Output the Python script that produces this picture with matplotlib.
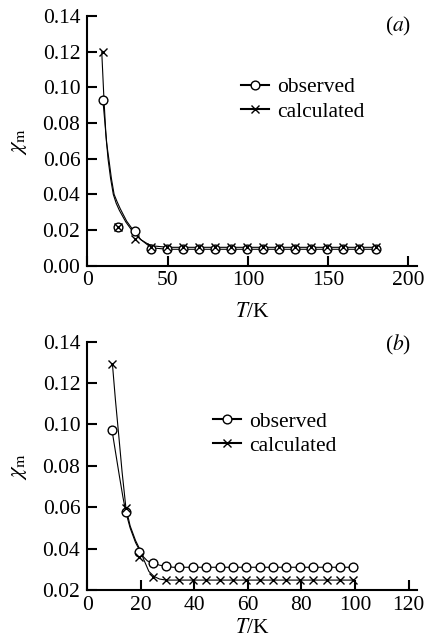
#仿一张论文插图：两个面板的磁化率 χm - T 曲线
import matplotlib
matplotlib.use("Agg")
import matplotlib.pyplot as plt
from matplotlib.lines import Line2D
import numpy as np

plt.rcParams["font.family"] = ["Liberation Serif", "DejaVu Serif"]
plt.rcParams["mathtext.fontset"] = "stix"

#准备数据
#面板(a)：测量点
T_a = [9.5, 19.3, 29.6, 39.5, 49.5, 59.5, 69.5, 79.5, 89.5, 99.5, 109.5, 119.5,
       129.5, 139.5, 149.5, 159.5, 169.5, 179.5]
obs_a = [0.093, 0.0215, 0.0194, 0.0095, 0.0092, 0.0092, 0.0092, 0.0092, 0.0092,
         0.0092, 0.0092, 0.0092, 0.0092, 0.0092, 0.0092, 0.0092, 0.0092, 0.0092]
calc_a = [0.120, 0.0215, 0.0147, 0.0103, 0.0103, 0.0103, 0.0103, 0.0103, 0.0103,
          0.0103, 0.0103, 0.0103, 0.0103, 0.0103, 0.0103, 0.0103, 0.0103, 0.0103]
#面板(a)：平滑曲线
Tc_obs_a = [9.7, 11, 12, 13.4, 15, 16.7, 18.5, 20.5, 24.5, 28.5, 33.5, 38.5, 42.5, 50, 179.5]
yc_obs_a = [0.093, 0.080, 0.069, 0.060, 0.049, 0.040, 0.036, 0.032, 0.025, 0.020,
            0.0145, 0.011, 0.0098, 0.0092, 0.0092]
Tc_calc_a = [9.0, 10.4, 11.5, 12.9, 14.5, 16.2, 18, 20, 24, 28, 33, 38, 42, 50, 179.5]
yc_calc_a = [0.120, 0.093, 0.075, 0.060, 0.049, 0.040, 0.035, 0.031, 0.0245, 0.0195,
             0.0148, 0.012, 0.011, 0.0103, 0.0103]

#面板(b)：测量点
T_b = [9.3, 14.4, 19.4, 24.4, 29.4, 34.4, 39.4, 44.4, 49.4, 54.4, 59.4, 64.4,
       69.4, 74.4, 79.4, 84.4, 89.4, 94.4, 99.4]
obs_b = [0.0975, 0.0576, 0.0382, 0.0333, 0.0315, 0.031, 0.031, 0.031, 0.031, 0.031,
         0.031, 0.031, 0.031, 0.031, 0.031, 0.031, 0.031, 0.031, 0.031]
calc_b = [0.129, 0.0598, 0.0360, 0.0265, 0.0248, 0.0248, 0.0248, 0.0248, 0.0248,
          0.0248, 0.0248, 0.0248, 0.0248, 0.0248, 0.0248, 0.0248, 0.0248, 0.0248, 0.0248]
#面板(b)：平滑曲线
Tc_obs_b = [9.2, 10.5, 12, 13.3, 14.4, 16, 18, 19.4, 21, 22.5, 24.4, 27, 29.4, 32, 99.4]
yc_obs_b = [0.0975, 0.087, 0.075, 0.065, 0.0576, 0.050, 0.043, 0.0395, 0.036, 0.034,
            0.0333, 0.032, 0.0315, 0.031, 0.031]
Tc_calc_b = [9.4, 10.5, 11.8, 13, 14.4, 16, 18, 19.5, 21, 23, 25, 27, 29.5, 99.4]
yc_calc_b = [0.129, 0.112, 0.094, 0.077, 0.060, 0.051, 0.044, 0.040, 0.035, 0.029,
             0.0265, 0.0253, 0.0248, 0.0248]

fs = 15.5
fig = plt.figure(figsize=(4.25, 6.38), dpi=100)


def draw_panel(rect, T, obs, calc, Tco, yco, Tcc, ycc, xlim, xticks, ylim, yticks,
               tag, leg_pos, xpad):
    ax = fig.add_axes(rect)
    #曲线
    ax.plot(Tco, yco, color="black", lw=0.8)
    ax.plot(Tcc, ycc, color="black", lw=0.8)
    #数据点：圆圈在下，叉在上
    ax.plot(T, obs, ls="none", marker="o", ms=6.3, mew=1.0, mfc="white", mec="black")
    ax.plot(T, calc, ls="none", marker="x", ms=5.5, mew=1.0, color="black")

    ax.set_xlim(xlim)
    ax.set_ylim(ylim)
    ax.set_xticks(xticks)
    ax.set_xticklabels([str(v) for v in xticks], fontsize=fs)
    ax.set_yticks(yticks)
    ax.set_yticklabels(["%.2f" % v for v in yticks], fontsize=fs)
    ax.tick_params(axis="both", direction="in", length=7, width=1.5)
    ax.tick_params(axis="x", pad=4)
    ax.tick_params(axis="y", pad=5)

    #去掉上框线和右框线
    ax.spines["right"].set_visible(False)
    ax.spines["top"].set_visible(False)
    ax.spines["left"].set_linewidth(1.5)
    ax.spines["bottom"].set_linewidth(1.5)

    ax.set_xlabel(r"$T$/K", fontsize=fs, labelpad=xpad)
    ax.set_ylabel(r"$\chi_\mathrm{m}$", fontsize=fs + 1, labelpad=10)

    #图例
    h_obs = Line2D([], [], color="black", lw=1.5, marker="o", ms=6.3, mfc="white", mec="black")
    h_calc = Line2D([], [], color="black", lw=1.5, marker="x", ms=5.5, mew=1.0)
    ax.legend([h_obs, h_calc], ["observed", "calculated"], frameon=False, fontsize=fs,
              loc="upper left", bbox_to_anchor=leg_pos, bbox_transform=fig.transFigure,
              borderpad=0, borderaxespad=0, handlelength=1.3, handletextpad=0.4,
              labelspacing=0.2)

    fig.text(tag[0], tag[1], tag[2], fontsize=fs, ha="center", va="center")
    return ax


draw_panel([0.2054, 0.5836, 0.776, 0.391], T_a, obs_a, calc_a,
           Tc_obs_a, yc_obs_a, Tc_calc_a, yc_calc_a,
           (0, 205.4), [0, 50, 100, 150, 200], (0, 0.14),
           [0.00, 0.02, 0.04, 0.06, 0.08, 0.10, 0.12, 0.14],
           (0.936, 0.958, r"($a$)"), (0.567, 0.879), 9)

draw_panel([0.2054, 0.0752, 0.776, 0.3892], T_b, obs_b, calc_b,
           Tc_obs_b, yc_obs_b, Tc_calc_b, yc_calc_b,
           (0, 123.2), [0, 20, 40, 60, 80, 100, 120], (0.02, 0.14),
           [0.02, 0.04, 0.06, 0.08, 0.10, 0.12, 0.14],
           (0.936, 0.459, r"($b$)"), (0.501, 0.355), 3.5)

fig.savefig("out.png", dpi=100)
